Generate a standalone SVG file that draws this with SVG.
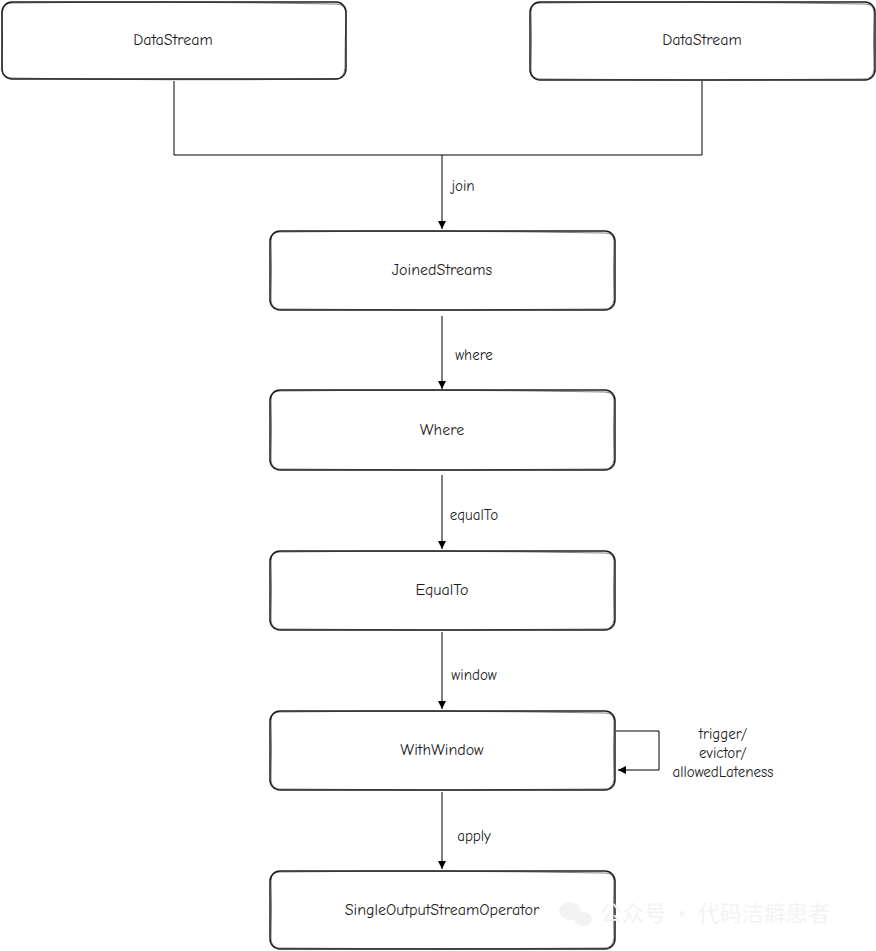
<svg xmlns="http://www.w3.org/2000/svg" width="876" height="951" viewBox="0 0 876 951">
<style>
.box{fill:#fff;stroke:#1e1e1e;stroke-width:1.5}
.box2{fill:none;stroke:#1e1e1e;stroke-width:0.8;opacity:0.7}
.t{font-family:"Comic Neue","Liberation Sans",sans-serif;font-size:16px;fill:#1e1e1e;text-anchor:middle;dominant-baseline:central}
.lbl{font-family:"Comic Neue","Liberation Sans",sans-serif;font-size:15px;fill:#1e1e1e;text-anchor:middle;dominant-baseline:central}
.ln{fill:none;stroke:#000;stroke-width:1}
.wm{font-family:"Noto Sans CJK SC",sans-serif;font-size:22px;fill:#f3f3f3}
</style>
<defs>
<marker id="ah" markerWidth="10" markerHeight="10" refX="8" refY="4" orient="auto" markerUnits="userSpaceOnUse">
<path d="M0,0 L8,4 L0,8 Z" fill="#000"/>
</marker>
</defs>
<rect width="876" height="951" fill="#fff"/>
<g id="connectors">
<path class="ln" d="M174,81 V155 H702 V81"/>
<path class="ln" d="M442,155 V229" marker-end="url(#ah)"/>
<path class="ln" d="M442,316 V389" marker-end="url(#ah)"/>
<path class="ln" d="M442,475 V549" marker-end="url(#ah)"/>
<path class="ln" d="M442,632 V709" marker-end="url(#ah)"/>
<path class="ln" d="M616,731 H659 V770 H618" marker-end="url(#ah)"/>
<path class="ln" d="M442,792 V869" marker-end="url(#ah)"/>
<text class="lbl" x="463" y="186">join</text>
<text class="lbl" x="474" y="355">where</text>
<text class="lbl" x="474" y="515">equalTo</text>
<text class="lbl" x="474" y="675">window</text>
<text class="lbl" x="474" y="836">apply</text>
<text class="lbl" x="723" y="734">trigger/</text>
<text class="lbl" x="723" y="753">evictor/</text>
<text class="lbl" x="723" y="772">allowedLateness</text>
</g>
<g id="ds1">
<rect class="box" x="2" y="2" width="344" height="77" rx="10"/>
<path class="box2" d="M12,3 Q170,1 336,4 Q347,5 346,15 Q345,40 345,68 Q344,80 334,79 Q170,81 11,78 Q1,77 2,66 Q3,40 2,13 Q3,3 12,3"/>
<text class="t" x="173" y="40">DataStream</text>
</g>
<g id="ds2">
<rect class="box" x="530" y="2" width="345" height="78" rx="10"/>
<path class="box2" d="M540,3 Q700,1 865,4 Q875,4 874,15 Q873,40 874,69 Q873,80 863,79 Q700,81 539,79 Q530,78 531,67 Q532,40 531,12 Q531,3 540,3"/>
<text class="t" x="702" y="40">DataStream</text>
</g>
<g id="joined">
<rect class="box" x="270" y="231" width="345" height="79" rx="10"/>
<path class="box2" d="M280,232 Q440,230 605,233 Q615,233 614,244 Q613,270 614,299 Q613,310 603,309 Q440,311 279,309 Q270,308 271,297 Q272,270 271,241 Q271,232 280,232"/>
<text class="t" x="442" y="270">JoinedStreams</text>
</g>
<g id="where">
<rect class="box" x="270" y="390" width="345" height="80" rx="10"/>
<path class="box2" d="M280,391 Q440,389 605,392 Q615,392 614,403 Q613,430 614,459 Q613,470 603,469 Q440,471 279,469 Q270,468 271,457 Q272,430 271,400 Q271,391 280,391"/>
<text class="t" x="442" y="430">Where</text>
</g>
<g id="equalto">
<rect class="box" x="270" y="551" width="345" height="79" rx="10"/>
<path class="box2" d="M280,552 Q440,550 605,553 Q615,553 614,564 Q613,590 614,619 Q613,630 603,629 Q440,631 279,629 Q270,628 271,617 Q272,590 271,561 Q271,552 280,552"/>
<text class="t" x="442" y="590">EqualTo</text>
</g>
<g id="withwindow">
<rect class="box" x="270" y="711" width="345" height="79" rx="10"/>
<path class="box2" d="M280,712 Q440,710 605,713 Q615,713 614,724 Q613,750 614,779 Q613,790 603,789 Q440,791 279,789 Q270,788 271,777 Q272,750 271,721 Q271,712 280,712"/>
<text class="t" x="442" y="750">WithWindow</text>
</g>
<g id="single">
<rect class="box" x="270" y="871" width="345" height="78" rx="10"/>
<path class="box2" d="M280,872 Q440,870 605,873 Q615,873 614,884 Q613,910 614,938 Q613,949 603,948 Q440,950 279,948 Q270,947 271,936 Q272,910 271,881 Q271,872 280,872"/>
<text class="t" x="442" y="910">SingleOutputStreamOperator</text>
</g>
<g id="watermark">
<ellipse cx="570" cy="911" rx="11" ry="9" fill="#f3f3f3"/>
<ellipse cx="583" cy="919" rx="9" ry="7" fill="#f3f3f3"/>
<text class="wm" x="600" y="921">公众号 · 代码洁癖患者</text>
</g>
</svg>
